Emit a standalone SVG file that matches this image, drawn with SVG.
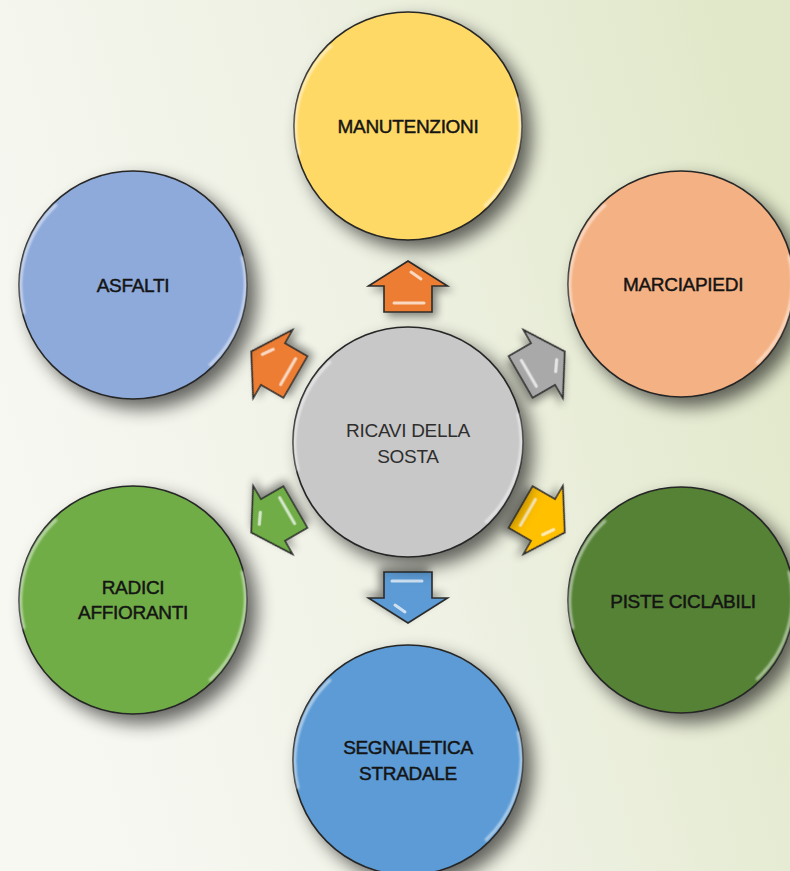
<svg xmlns="http://www.w3.org/2000/svg" width="790" height="871" viewBox="0 0 790 871">
<defs>
<linearGradient id="bg" x1="0" y1="0.6" x2="1" y2="0.3">
<stop offset="0" stop-color="#f8f8f3"/>
<stop offset="0.5" stop-color="#eef1e3"/>
<stop offset="1" stop-color="#e1e8c9"/>
</linearGradient>
<filter id="shadow" x="-30%" y="-30%" width="160%" height="160%">
<feGaussianBlur in="SourceAlpha" stdDeviation="9"/>
<feOffset dx="9" dy="9" result="b"/>
<feComponentTransfer><feFuncA type="linear" slope="0.6"/></feComponentTransfer>
<feMerge><feMergeNode/><feMergeNode in="SourceGraphic"/></feMerge>
</filter>
<filter id="ashadow" x="-40%" y="-40%" width="180%" height="180%">
<feGaussianBlur in="SourceAlpha" stdDeviation="4"/>
<feOffset dx="4" dy="4" result="b"/>
<feComponentTransfer><feFuncA type="linear" slope="0.45"/></feComponentTransfer>
<feMerge><feMergeNode/><feMergeNode in="SourceGraphic"/></feMerge>
</filter>
<filter id="soft"><feGaussianBlur stdDeviation="0.9"/></filter>
<polygon id="arrow" points="0,-181 39.5,-156 24,-156 24,-130 -24,-130 -24,-156 -39.5,-156"/>
</defs>
<style>
.c{stroke:#262626;stroke-width:1.6}
.rim{fill:none;stroke:#ffffff;stroke-width:2.5;stroke-linecap:round;opacity:0.6}
.t{font-family:"Liberation Sans",Arial,sans-serif;font-size:19px;fill:#141414;stroke:#141414;stroke-width:0.45;text-anchor:middle;letter-spacing:-0.3px}
.tc{font-family:"Liberation Sans",Arial,sans-serif;font-size:19px;fill:#2e2e2e;text-anchor:middle;letter-spacing:-0.3px}
.a{stroke:#2b2b2b;stroke-width:1.6;stroke-linejoin:miter}
.hl{fill:none;stroke:#ffffff;stroke-width:3;stroke-linecap:round;opacity:0.7}
</style>
<rect x="0" y="0" width="790" height="871" fill="url(#bg)"/>

<g id="connectors">
<g transform="translate(408,442) rotate(0)" filter="url(#ashadow)"><use href="#arrow" class="a" fill="#ed7d31"/><path class="hl" d="M3,-170 L13,-163 M-14,-139 L16,-139"/></g>
<g transform="translate(408,442) rotate(60)" filter="url(#ashadow)"><use href="#arrow" class="a" fill="#a9a9a9"/><path class="hl" d="M3,-170 L13,-163 M-14,-139 L16,-139"/></g>
<g transform="translate(408,442) rotate(120)" filter="url(#ashadow)"><use href="#arrow" class="a" fill="#ffc000"/><path class="hl" d="M3,-170 L13,-163 M-14,-139 L16,-139"/></g>
<g transform="translate(408,442) rotate(180)" filter="url(#ashadow)"><use href="#arrow" class="a" fill="#5b9bd5"/><path class="hl" d="M3,-170 L13,-163 M-14,-139 L16,-139"/></g>
<g transform="translate(408,442) rotate(240)" filter="url(#ashadow)"><use href="#arrow" class="a" fill="#70ad47"/><path class="hl" d="M3,-170 L13,-163 M-14,-139 L16,-139"/></g>
<g transform="translate(408,442) rotate(300)" filter="url(#ashadow)"><use href="#arrow" class="a" fill="#ed7d31"/><path class="hl" d="M3,-170 L13,-163 M-14,-139 L16,-139"/></g>
</g>

<g id="center">
<circle cx="408" cy="442" r="115" class="c" fill="#c8c8c8" filter="url(#shadow)"/>
<path class="rim" filter="url(#soft)" d="M298,470 A112,112 0 0 1 330,362"/>
<path class="rim" filter="url(#soft)" d="M518,414 A112,112 0 0 1 486,522"/>
<text class="tc" x="408" y="437">RICAVI DELLA</text>
<text class="tc" x="408" y="463">SOSTA</text>
</g>

<g id="manutenzioni">
<circle cx="408" cy="126" r="114" class="c" fill="#ffd966" filter="url(#shadow)"/>
<path class="rim" filter="url(#soft)" d="M299,154 A111,111 0 0 1 331,46"/>
<path class="rim" filter="url(#soft)" d="M517,98 A111,111 0 0 1 485,206"/>
<text class="t" x="408" y="133">MANUTENZIONI</text>
</g>

<g id="asfalti">
<circle cx="133" cy="285" r="114" class="c" fill="#8eaadb" filter="url(#shadow)"/>
<path class="rim" filter="url(#soft)" d="M24,313 A111,111 0 0 1 56,205"/>
<path class="rim" filter="url(#soft)" d="M242,257 A111,111 0 0 1 210,365"/>
<text class="t" x="133" y="292">ASFALTI</text>
</g>

<g id="marciapiedi">
<circle cx="681" cy="284" r="113" class="c" fill="#f4b183" filter="url(#shadow)"/>
<path class="rim" filter="url(#soft)" d="M573,312 A110,110 0 0 1 605,205"/>
<path class="rim" filter="url(#soft)" d="M789,256 A110,110 0 0 1 757,363"/>
<text class="t" x="683" y="291">MARCIAPIEDI</text>
</g>

<g id="radici">
<circle cx="133" cy="600" r="114" class="c" fill="#70ad47" filter="url(#shadow)"/>
<path class="rim" filter="url(#soft)" d="M24,628 A111,111 0 0 1 56,520"/>
<path class="rim" filter="url(#soft)" d="M242,572 A111,111 0 0 1 210,680"/>
<text class="t" x="133" y="594">RADICI</text>
<text class="t" x="133" y="619">AFFIORANTI</text>
</g>

<g id="piste">
<circle cx="681" cy="600" r="113" class="c" fill="#548235" filter="url(#shadow)"/>
<path class="rim" filter="url(#soft)" d="M573,628 A110,110 0 0 1 605,521"/>
<path class="rim" filter="url(#soft)" d="M789,572 A110,110 0 0 1 757,679"/>
<text class="t" x="683" y="608">PISTE CICLABILI</text>
</g>

<g id="segnaletica">
<circle cx="408" cy="760" r="115" class="c" fill="#5b9bd5" filter="url(#shadow)"/>
<path class="rim" filter="url(#soft)" d="M298,788 A112,112 0 0 1 330,680"/>
<path class="rim" filter="url(#soft)" d="M518,732 A112,112 0 0 1 486,840"/>
<text class="t" x="408" y="754">SEGNALETICA</text>
<text class="t" x="408" y="780">STRADALE</text>
</g>
</svg>
